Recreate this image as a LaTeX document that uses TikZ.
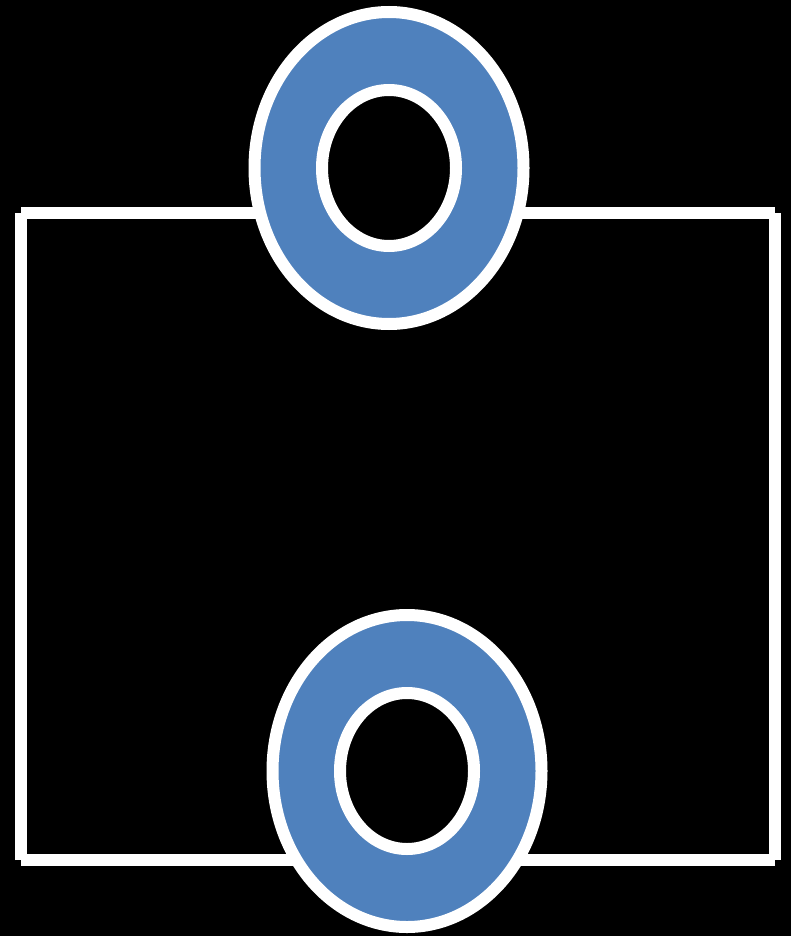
\documentclass[tikz,border=0pt]{standalone}
\usetikzlibrary{calc}
\definecolor{donutblue}{HTML}{4F81BD}
\begin{document}
\begin{tikzpicture}[x=1pt,y=-1pt,
  wire/.style={white,line width=12pt,line cap=butt},
  ring/.style={draw=white,line width=12pt,fill=donutblue},
  hole/.style={draw=white,line width=12pt,fill=black}]
\fill[black] (0,0) rectangle (791,936);
\useasboundingbox (0,0) rectangle (791,936);
% frame corners
\coordinate (tl) at (21,213);
\coordinate (tr) at (775,213);
\coordinate (br) at (775,860);
\coordinate (bl) at (21,860);
\draw[wire] (tl) -- (tr);
\draw[wire] (tr) -- (br);
\draw[wire] (br) -- (bl);
\draw[wire] (bl) -- (tl);
% donuts
\coordinate (d1) at (389,168);
\coordinate (d2) at (407,771);
\path[ring] (d1) ellipse [x radius=134.5, y radius=156];
\path[hole] (d1) ellipse [x radius=67, y radius=78];
\path[ring] (d2) ellipse [x radius=134.5, y radius=156];
\path[hole] (d2) ellipse [x radius=67, y radius=78];
\end{tikzpicture}
\end{document}
